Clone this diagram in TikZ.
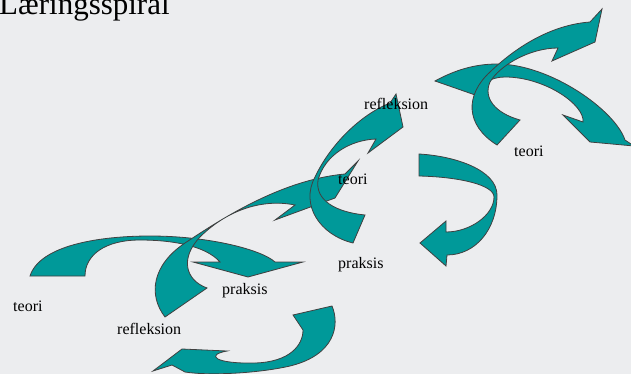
\documentclass[tikz,border=0pt]{standalone}
\usepackage{fontspec}
\setmainfont{Liberation Serif}
\definecolor{bg}{RGB}{236,237,239}
\definecolor{spiralteal}{RGB}{0,153,153}
\definecolor{edgegray}{RGB}{64,64,64}
\begin{document}
\begin{tikzpicture}[x=1pt,y=-1pt,
    band/.style={fill=spiralteal,draw=edgegray,line width=0.8pt},
    lbl/.style={anchor=base west,inner sep=0pt,font=\fontsize{16}{16}\selectfont}]
  \fill[bg] (0,0) rectangle (631,374);
  \useasboundingbox (0,0) rectangle (631,374);
  \clip (0,0) rectangle (631,374);
  \node[anchor=base west,inner sep=0pt,font=\fontsize{31}{31}\selectfont] (title) at (-1,15) {Læringsspiral};
  \draw[band] (30,276) .. controls (40,245) and (100,236) .. (150,236)
    .. controls (210,236) and (262,250) .. (275,262) -- (303,262) -- (248,277)
    -- (193,262) -- (220,262) .. controls (205,245) and (170,240) .. (140,240)
    .. controls (105,240) and (85,255) .. (85,276) -- cycle;
  \draw[band] (165,317) .. controls (148,295) and (152,265) .. (185,243)
    .. controls (220,220) and (280,180) .. (345,174) -- (358,161) -- (335,198)
    -- (275,220) -- (295,205) .. controls (260,198) and (225,212) .. (200,237)
    .. controls (180,258) and (185,280) .. (207,288) -- cycle;
  \draw[band] (353,243) .. controls (320,235) and (300,205) .. (315,177)
    .. controls (330,145) and (360,115) .. (390,103) -- (396,94) -- (403,127)
    -- (368,153) -- (376,139) .. controls (350,140) and (325,155) .. (318,180)
    .. controls (315,200) and (335,212) .. (365,215) -- cycle;
  \draw[band] (419,154) .. controls (455,156) and (497,170) .. (497,195)
    .. controls (497,230) and (475,255) .. (447,255) -- (446,266) -- (420,243)
    -- (446,221) -- (446,232) .. controls (470,232) and (494,215) .. (494,197)
    .. controls (494,185) and (460,177) .. (419,176) -- cycle;
  \draw[band] (332,306) .. controls (340,325) and (335,355) .. (290,366)
    .. controls (260,373) and (210,376) .. (185,372) -- (172,365) -- (153,371)
    -- (182,349) -- (227,351) .. controls (205,355) and (215,364) .. (255,363)
    .. controls (290,362) and (303,345) .. (303,330) -- (293,315) -- cycle;
  \draw[band] (435,81) .. controls (455,70) and (475,64) .. (497,64)
    .. controls (550,64) and (615,110) .. (625,140) -- (634,146) -- (590,142)
    -- (563,115) -- (583,122) .. controls (585,105) and (545,77) .. (505,77)
    .. controls (490,77) and (478,85) .. (478,96) -- cycle;
  \draw[band] (497,145) .. controls (465,125) and (465,95) .. (490,72)
    .. controls (515,48) and (550,25) .. (590,22) -- (602,9) -- (595,42)
    -- (552,61) -- (558,48) .. controls (530,48) and (500,65) .. (490,82)
    .. controls (483,98) and (495,113) .. (520,120) -- cycle;
  \node[lbl] (teori1) at (13,311) {teori};
  \node[lbl] (refleksion1) at (117,334) {refleksion};
  \node[lbl] (praksis1) at (222,294) {praksis};
  \node[lbl] (teori2) at (338,185) {teori};
  \node[lbl] (praksis2) at (338,268) {praksis};
  \node[lbl] (refleksion2) at (364,110) {refleksion};
  \node[lbl] (teori3) at (514,157) {teori};
\end{tikzpicture}
\end{document}
